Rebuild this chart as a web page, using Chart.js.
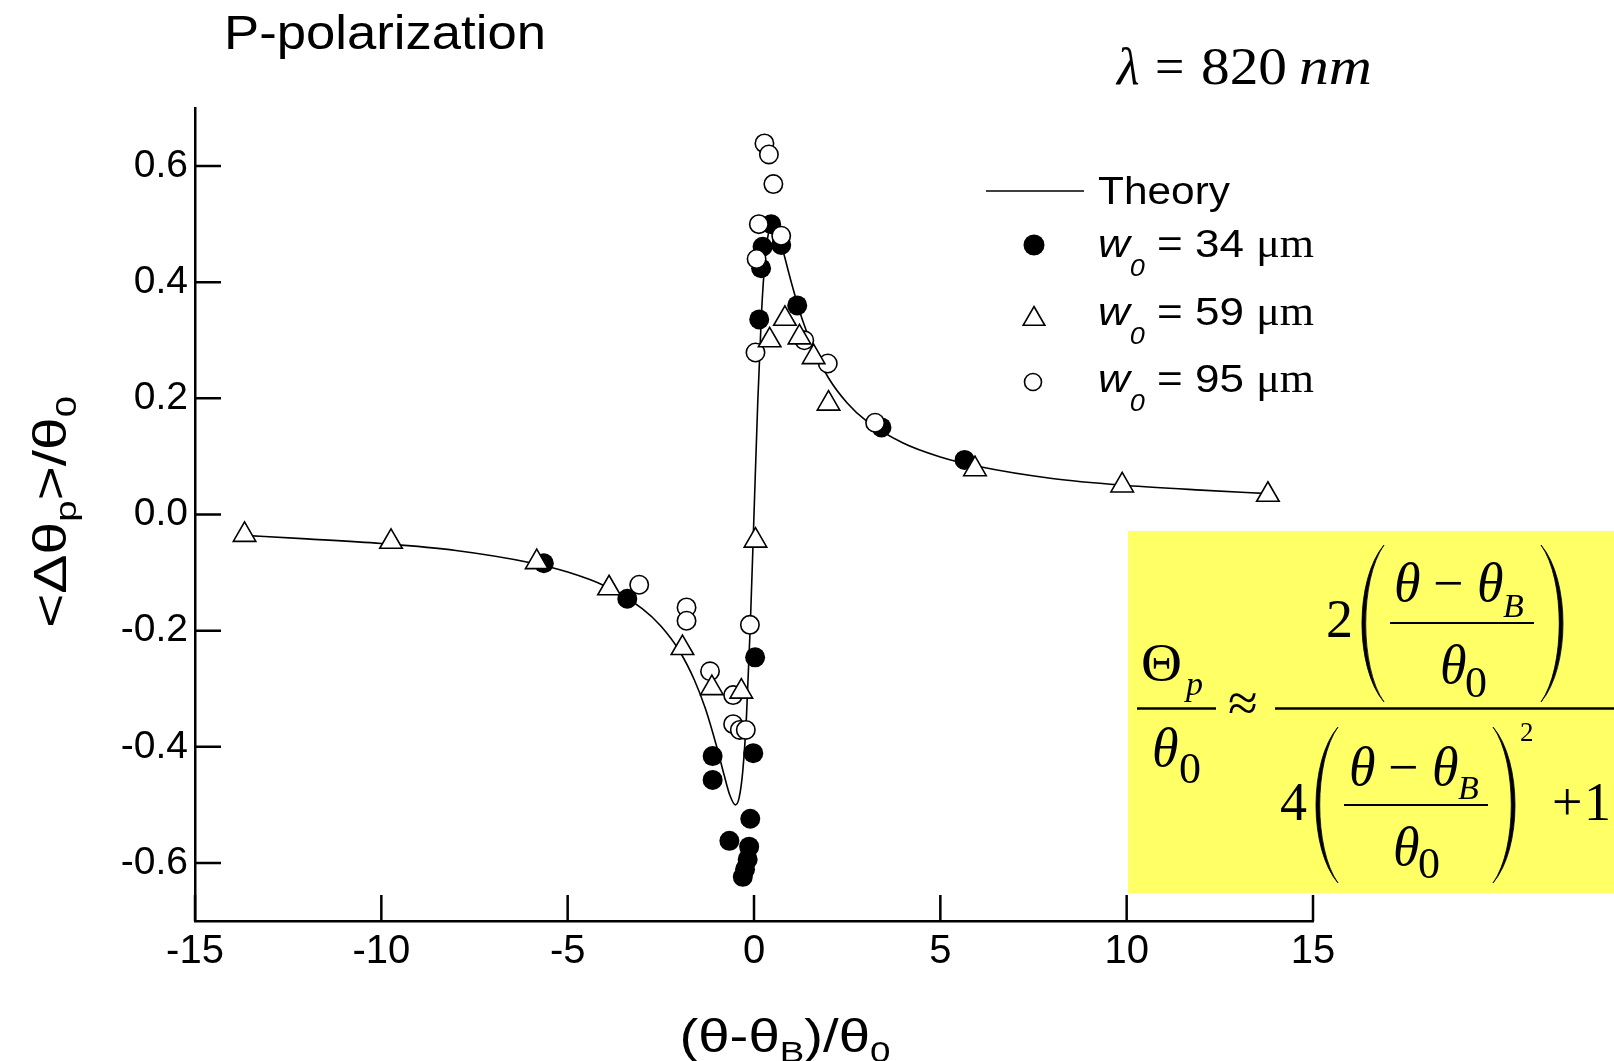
<!DOCTYPE html>
<html><head><meta charset="utf-8">
<script src="https://cdn.jsdelivr.net/npm/chart.js@4.4.1/dist/chart.umd.min.js"></script>
<style>
html,body{margin:0;padding:0;background:#fff;}
#wrap{position:relative;width:1614px;height:1061px;overflow:hidden;background:#fff;}
#c{position:absolute;left:0;top:0;}
#ov{position:absolute;left:0;top:0;}
</style></head><body>
<div id="wrap"><canvas id="c" width="1614" height="1061"></canvas>
<svg id="ov" width="1614" height="1061" xmlns="http://www.w3.org/2000/svg"></svg></div>
<script>
// ---- data ----
const xTicks = [-15, -10, -5, 0, 5, 10, 15];
const yTicks = [-0.6, -0.4, -0.2, 0.0, 0.2, 0.4, 0.6];

const theoryX = [-13.7,-12,-10,-8,-6,-5,-4,-3,-2.5,-2,-1.6,-1.3,-1.0,-0.8,-0.65,-0.5,-0.4,-0.3,-0.2,-0.1,0,0.1,0.2,0.3,0.4,0.5,0.65,0.8,1.0,1.3,1.6,2,2.5,3,4,5,6,8,10,12,13.8];
const theoryY = [-0.036,-0.042,-0.050,-0.062,-0.083,-0.099,-0.123,-0.162,-0.192,-0.235,-0.285,-0.335,-0.400,-0.449,-0.483,-0.500,-0.488,-0.441,-0.345,-0.192,0,0.192,0.345,0.441,0.488,0.500,0.483,0.449,0.400,0.335,0.285,0.235,0.192,0.162,0.123,0.099,0.083,0.062,0.050,0.042,0.036];

const w34X = [-5.64,-3.40,-1.11,-1.11,-0.66,-0.30,-0.24,-0.17,-0.13,-0.10,-0.02,0.03,0.14,0.19,0.23,0.46,0.73,1.16,3.42,5.65];
const w34Y = [-0.084,-0.145,-0.416,-0.457,-0.562,-0.624,-0.611,-0.594,-0.572,-0.524,-0.411,-0.246,0.336,0.424,0.461,0.500,0.464,0.360,0.150,0.094];

const w59X = [-13.67,-9.74,-5.83,-3.89,-1.92,-1.13,-0.34,0.04,0.42,0.83,1.22,1.60,2.00,5.93,9.88,13.79];
const w59Y = [-0.035,-0.047,-0.082,-0.127,-0.230,-0.299,-0.305,-0.045,0.300,0.337,0.305,0.271,0.191,0.078,0.050,0.034];

const w95X = [-3.08,-1.81,-1.81,-1.18,-0.56,-0.56,-0.38,-0.22,-0.11,0.04,0.07,0.13,0.28,0.40,0.52,0.73,1.35,1.98,3.25];
const w95Y = [-0.121,-0.160,-0.183,-0.270,-0.311,-0.361,-0.371,-0.371,-0.190,0.279,0.440,0.500,0.639,0.620,0.569,0.480,0.300,0.260,0.158];

const seriesLabels = ['Theory', 'w0 = 34 μm', 'w0 = 59 μm', 'w0 = 95 μm'];

// ---- chart ----
const pts = (xs, ys) => xs.map((x, i) => ({x: x, y: ys[i]}));
const SANS = '"Liberation Sans", Arial, sans-serif';
const SERIF = '"Liberation Serif", "Times New Roman", serif';

const inwardTicks = {
  id: 'inwardTicks',
  beforeDatasetsDraw(chart) {
    const ctx = chart.ctx, xs = chart.scales.x, ys = chart.scales.y;
    ctx.save();
    ctx.strokeStyle = '#000'; ctx.lineWidth = 2.5;
    ctx.beginPath();
    ys.ticks.forEach(t => { const p = ys.getPixelForValue(t.value); ctx.moveTo(ys.right, p); ctx.lineTo(ys.right + 26, p); });
    xs.ticks.forEach(t => { const p = xs.getPixelForValue(t.value); ctx.moveTo(p, xs.top); ctx.lineTo(p, xs.top - 26); });
    ctx.stroke();
    ctx.restore();
  }
};

new Chart(document.getElementById('c'), {
  type: 'scatter',
  data: {
    datasets: [
      {label: seriesLabels[2], data: pts(w59X, w59Y), pointStyle: 'triangle', pointRadius: 13, backgroundColor: '#fff', borderColor: '#000', borderWidth: 1.6, order: 0, clip: false},
      {label: seriesLabels[3], data: pts(w95X, w95Y), pointStyle: 'circle', pointRadius: 9.2, backgroundColor: '#fff', borderColor: '#000', borderWidth: 1.6, order: 1, clip: false},
      {label: seriesLabels[1], data: pts(w34X, w34Y), pointStyle: 'circle', pointRadius: 10, backgroundColor: '#000', borderColor: '#000', borderWidth: 0, order: 2, clip: false},
      {label: seriesLabels[0], data: pts(theoryX, theoryY), showLine: true, pointRadius: 0, borderColor: '#000', borderWidth: 1.6, cubicInterpolationMode: 'monotone', order: 3}
    ]
  },
  options: {
    responsive: false, animation: false, devicePixelRatio: 1, events: [],
    layout: {padding: {left: 0, right: 301, top: 108, bottom: 0}},
    plugins: {legend: {display: false}, tooltip: {enabled: false}},
    scales: {
      x: {
        type: 'linear', min: -15, max: 15,
        afterFit: s => { s.height = 140; },
        afterBuildTicks: s => { s.ticks = xTicks.map(v => ({value: v})); },
        grid: {display: false, drawTicks: false},
        border: {display: true, color: '#000', width: 2.5},
        ticks: {color: '#000', padding: 7, font: {family: SANS, size: 40}, callback: v => String(v), maxRotation: 0, autoSkip: false}
      },
      y: {
        type: 'linear', min: -0.7, max: 0.7,
        afterFit: s => { s.width = 195; },
        afterBuildTicks: s => { s.ticks = yTicks.map(v => ({value: v})); },
        grid: {display: false, drawTicks: false},
        border: {display: true, color: '#000', width: 2.5},
        ticks: {color: '#000', padding: 7, font: {family: SANS, size: 39}, callback: v => Number(v).toFixed(1), autoSkip: false}
      }
    }
  },
  plugins: [inwardTicks]
});

// ---- overlay texts (title, legend, axis titles, formula) ----
const NS = 'http://www.w3.org/2000/svg';
const ov = document.getElementById('ov');
function el(tag, attrs, parent) {
  const e = document.createElementNS(NS, tag);
  for (const k in attrs) e.setAttribute(k, attrs[k]);
  (parent || ov).appendChild(e);
  return e;
}
function txt(x, y, size, str, o) {
  o = o || {};
  const a = {x: x, y: y, 'font-size': size, 'font-family': o.family || SANS, fill: '#000'};
  if (o.italic) a['font-style'] = 'italic';
  if (o.anchor) a['text-anchor'] = o.anchor;
  if (o.len) { a.textLength = o.len; a.lengthAdjust = 'spacingAndGlyphs'; }
  if (o.transform) a.transform = o.transform;
  const t = el('text', a, o.parent);
  t.textContent = str;
  return t;
}
function span(parent, str, o) {
  o = o || {};
  const a = {};
  if (o.italic) a['font-style'] = 'italic';
  if (o.size) a['font-size'] = o.size;
  if (o.family) a['font-family'] = o.family;
  if (o.dy !== undefined) a.dy = o.dy;
  const s = el('tspan', a, parent);
  s.textContent = str;
  return s;
}
function line(x1, y1, x2, y2, w) { el('line', {x1: x1, y1: y1, x2: x2, y2: y2, stroke: '#000', 'stroke-width': w}); }

// title
txt(224, 49, 48, 'P-polarization', {len: 322});
// wavelength
txt(1117, 84, 52, 'λ', {family: SERIF, italic: true});
txt(1155, 84, 52, '=', {family: SERIF});
txt(1201, 84, 52, '820', {family: SERIF, len: 86});
txt(1299, 84, 52, 'nm', {family: SERIF, italic: true, len: 73});

// legend
line(986, 191, 1084, 191, 1.6);
txt(1098, 204, 39, seriesLabels[0], {len: 132});
const rows = [
  {y: 257, num: '34', mk: 'filled', my: 245},
  {y: 325, num: '59', mk: 'tri', my: 317},
  {y: 392, num: '95', mk: 'open', my: 382}
];
rows.forEach(r => {
  const t = txt(1098, r.y, 39, '', {len: 216});
  span(t, 'w', {italic: true});
  span(t, '0', {italic: true, size: 24, dy: 19});
  span(t, ' = ' + r.num + ' ', {dy: -19});
  span(t, 'μm', {family: SERIF});
  if (r.mk === 'filled') el('circle', {cx: 1034, cy: r.my, r: 10.5, fill: '#000'});
  if (r.mk === 'open') el('circle', {cx: 1033, cy: r.my, r: 8.5, fill: '#fff', stroke: '#000', 'stroke-width': 1.6});
  if (r.mk === 'tri') {
    const R = 12.5, cx = 1034, cy = r.my + 2;
    const p = [[cx, cy - R], [cx + R * 0.866, cy + R / 2], [cx - R * 0.866, cy + R / 2]].map(q => q.join(',')).join(' ');
    el('polygon', {points: p, fill: '#fff', stroke: '#000', 'stroke-width': 1.6});
  }
});

// y axis title
{
  const t = txt(0, 0, 46, '', {anchor: 'middle', len: 232, transform: 'translate(66,512) rotate(-90)'});
  span(t, '<Δθ');
  span(t, 'p', {size: 30, dy: 10});
  span(t, '>/θ', {dy: -10});
  span(t, '0', {size: 30, dy: 10});
}
// x axis title
{
  const t = txt(785, 1052, 46, '', {anchor: 'middle', len: 211});
  span(t, '(θ-θ');
  span(t, 'B', {size: 30, dy: 10});
  span(t, ')/θ', {dy: -10});
  span(t, '0', {size: 30, dy: 10});
}

// formula box
el('rect', {x: 1128, y: 531, width: 486, height: 362, fill: '#ffff66'});
// tall thin bracket shapes for the formula
function paren(x, top, bottom, left) {
  const w = 22, h = bottom - top, th = 5;
  let d;
  if (left) {
    const xe = x + w, xc = x - w / 3;
    d = 'M' + xe + ',' + top + ' C' + xc + ',' + (top + h * 0.22) + ' ' + xc + ',' + (bottom - h * 0.22) + ' ' + xe + ',' + bottom +
        ' C' + (xc + th) + ',' + (bottom - h * 0.22) + ' ' + (xc + th) + ',' + (top + h * 0.22) + ' ' + xe + ',' + top + ' Z';
  } else {
    const xe = x, xc = x + w + w / 3;
    d = 'M' + xe + ',' + top + ' C' + xc + ',' + (top + h * 0.22) + ' ' + xc + ',' + (bottom - h * 0.22) + ' ' + xe + ',' + bottom +
        ' C' + (xc - th) + ',' + (bottom - h * 0.22) + ' ' + (xc - th) + ',' + (top + h * 0.22) + ' ' + xe + ',' + top + ' Z';
  }
  el('path', {d: d, fill: '#000', stroke: '#000', 'stroke-width': 0.8});
}
const F = {family: SERIF};
const FI = {family: SERIF, italic: true};
// left fraction
txt(1141, 680, 52, 'Θ', Object.assign({len: 41}, F));
txt(1186, 695, 34, 'p', FI);
line(1137, 708.5, 1216, 708.5, 2.5);
txt(1152, 766, 54, 'θ', FI);
txt(1179, 783, 44, '0', F);
txt(1228, 721, 54, '≈', F);
line(1275, 708.5, 1614, 708.5, 2.5);
// numerator
txt(1326, 637, 54, '2', F);
paren(1362, 545, 702, true);
txt(1394, 601, 54, 'θ', FI);
txt(1433, 601, 54, '−', F);
txt(1477, 601, 54, 'θ', FI);
txt(1503, 617, 34, 'B', FI);
line(1390, 623, 1534, 623, 2);
txt(1440, 683, 54, 'θ', FI);
txt(1465, 697, 44, '0', F);
paren(1541, 545, 702, false);
// denominator
txt(1280, 820, 54, '4', F);
paren(1316, 727, 883, true);
txt(1349, 785, 54, 'θ', FI);
txt(1388, 785, 54, '−', F);
txt(1432, 785, 54, 'θ', FI);
txt(1458, 799, 34, 'B', FI);
line(1344, 805, 1488, 805, 2);
txt(1393, 865, 54, 'θ', FI);
txt(1418, 878, 44, '0', F);
paren(1493, 727, 883, false);
txt(1520, 741, 27, '2', F);
txt(1552, 820, 54, '+', F);
txt(1584, 820, 54, '1', F);
</script>
</body></html>
